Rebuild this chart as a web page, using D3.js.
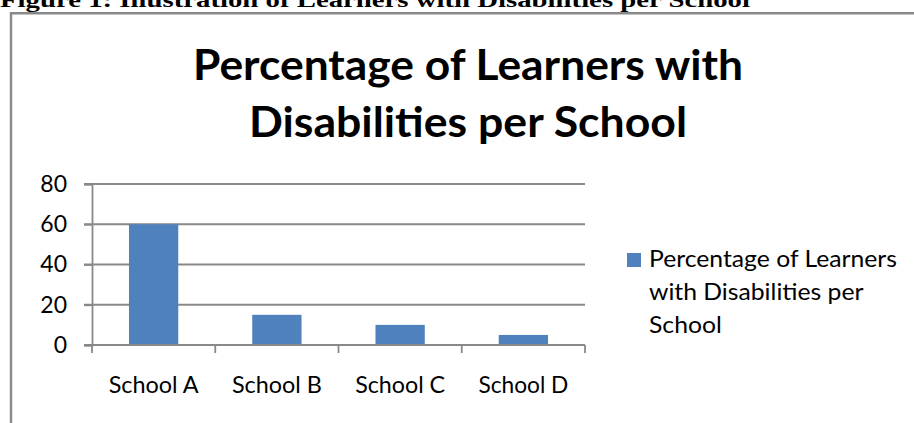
<!DOCTYPE html>
<html>
<head>
<meta charset="utf-8">
<script src="https://cdn.jsdelivr.net/npm/d3@7"></script>
<style>
  body { margin: 0; background: #fff; }
  text { font-family: Lato, "Open Sans", sans-serif; fill: #000; }
</style>
</head>
<body>
<div id="chart"></div>
<script>
var schools = ["School A", "School B", "School C", "School D"];
var percentages = [60, 15, 10, 5];
var yTicks = [0, 20, 40, 60, 80];
var titleLines = ["Percentage of Learners with", "Disabilities per School"];
var legendLines = ["Percentage of Learners", "with Disabilities per", "School"];
var caption = "Figure 1: Illustration of Learners with Disabilities per School";

var svgWidth = 914;
var svgHeight = 423;
var plot = { left: 92, right: 585, top: 184, bottom: 345 };
var barColor = "#4F81BD";
var lineColor = "#898989";

var svg = d3.select("#chart")
  .append("svg")
  .attr("width", svgWidth)
  .attr("height", svgHeight);

// caption above the chart frame (cut off at the top, as in the page it came from)
svg.append("text")
  .attr("x", 0)
  .attr("y", 7)
  .attr("style", "font-family: 'Liberation Serif', serif; font-weight: bold;")
  .attr("font-size", 22)
  .attr("textLength", 750)
  .attr("lengthAdjust", "spacingAndGlyphs")
  .text(caption);

// chart area frame
svg.append("path")
  .attr("d", `M11,${svgHeight} V13.3 H${svgWidth}`)
  .attr("fill", "none")
  .attr("stroke", lineColor)
  .attr("stroke-width", 2.4);

// title
var titleWidths = [550, 438];
svg.selectAll(".title")
  .data(titleLines)
  .enter()
  .append("text")
  .attr("class", "title")
  .attr("x", 468)
  .attr("y", (d, i) => 80 + i * 57)
  .attr("text-anchor", "middle")
  .attr("font-size", 42)
  .attr("font-weight", "bold")
  .attr("textLength", (d, i) => titleWidths[i])
  .attr("lengthAdjust", "spacingAndGlyphs")
  .text(d => d);

var x = d3.scaleBand()
  .domain(schools)
  .range([plot.left, plot.right])
  .paddingInner(0.6)
  .paddingOuter(0.3);

var y = d3.scaleLinear()
  .domain([0, 80])
  .range([plot.bottom, plot.top]);

// gridlines
svg.append("g")
  .selectAll("line")
  .data(yTicks.filter(t => t > 0))
  .enter()
  .append("line")
  .attr("x1", plot.left - 8)
  .attr("x2", plot.right)
  .attr("y1", d => y(d))
  .attr("y2", d => y(d))
  .attr("stroke", lineColor)
  .attr("stroke-width", 1.8);

// bars
svg.append("g")
  .selectAll("rect")
  .data(percentages)
  .enter()
  .append("rect")
  .attr("x", (d, i) => x(schools[i]))
  .attr("y", d => y(d))
  .attr("width", x.bandwidth())
  .attr("height", d => y(0) - y(d))
  .attr("fill", barColor);

// y axis
var leftAxis = d3.axisLeft(y).tickValues(yTicks).tickSize(8).tickPadding(17);
var yAxis = svg.append("g")
  .attr("transform", `translate(${plot.left}, 0)`)
  .call(leftAxis);
yAxis.select(".domain").attr("stroke", lineColor).attr("stroke-width", 1.8);
yAxis.selectAll(".tick line").attr("stroke", lineColor).attr("stroke-width", 1.8);
yAxis.selectAll(".tick text")
  .attr("font-size", 23)
  .attr("font-family", "Lato, sans-serif")
  .attr("fill", "#000");

// x axis
var bottomAxis = d3.axisBottom(x).tickSize(0).tickPadding(32);
var xAxis = svg.append("g")
  .attr("transform", `translate(0, ${plot.bottom})`)
  .call(bottomAxis);
xAxis.select(".domain").remove();
xAxis.selectAll(".tick text")
  .attr("font-size", 23)
  .attr("font-family", "Lato, sans-serif")
  .attr("fill", "#000")
  .attr("textLength", 90)
  .attr("lengthAdjust", "spacingAndGlyphs");

// x axis line and category boundary ticks
var bounds = schools.map(s => x(s) - x.step() * x.paddingInner() / 2);
bounds.push(plot.right);
xAxis.append("line")
  .attr("x1", plot.left - 8)
  .attr("x2", plot.right)
  .attr("stroke", lineColor)
  .attr("stroke-width", 1.8);
xAxis.selectAll(".bound")
  .data(bounds)
  .enter()
  .append("line")
  .attr("class", "bound")
  .attr("x1", d => d)
  .attr("x2", d => d)
  .attr("y1", 0)
  .attr("y2", 8)
  .attr("stroke", lineColor)
  .attr("stroke-width", 1.8);

// legend
var legend = svg.append("g");
legend.append("rect")
  .attr("x", 627)
  .attr("y", 253)
  .attr("width", 14)
  .attr("height", 14)
  .attr("fill", barColor);
var legendText = legend.selectAll("text")
  .data(legendLines)
  .enter()
  .append("text")
  .attr("x", 649)
  .attr("y", (d, i) => 267 + i * 33)
  .attr("font-size", 23)
  .text(d => d);
var ratio = 248 / legendText.node().getComputedTextLength();
legendText
  .attr("textLength", function() { return this.getComputedTextLength() * ratio; })
  .attr("lengthAdjust", "spacingAndGlyphs");
</script>
</body>
</html>
